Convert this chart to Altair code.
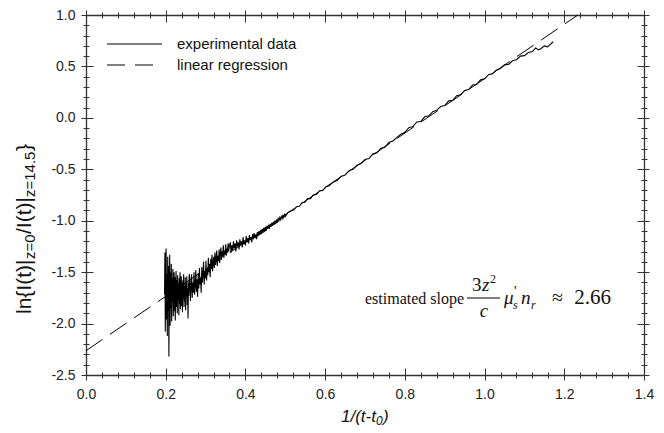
import altair as alt
import pandas as pd

# ---------------- data ----------------
# dense, noisy start (late times)
x_a = [0.197, 0.198, 0.199, 0.200, 0.201, 0.202, 0.203, 0.204, 0.205, 0.206,
       0.207, 0.208, 0.209, 0.210, 0.211, 0.212, 0.213, 0.214, 0.215, 0.216,
       0.217, 0.218, 0.219, 0.220, 0.221, 0.222, 0.223, 0.224, 0.225, 0.226,
       0.227, 0.228, 0.229, 0.230, 0.231, 0.232, 0.233, 0.234, 0.235, 0.236,
       0.237, 0.238, 0.239, 0.240, 0.241, 0.242, 0.243, 0.244, 0.245, 0.246,
       0.247, 0.248, 0.249, 0.250, 0.251, 0.252, 0.253, 0.254, 0.255, 0.256,
       0.257, 0.258, 0.259]
y_a = [-1.72, -1.31, -2.08, -1.40, -1.27, -1.96, -1.52, -2.12, -1.35, -1.88,
       -1.44, -2.32, -1.60, -1.33, -2.02, -1.50, -1.85, -1.42, -1.98, -1.56,
       -1.79, -1.47, -1.93, -1.62, -1.50, -1.88, -1.55, -1.97, -1.64, -1.49,
       -1.84, -1.58, -1.90, -1.53, -1.77, -1.61, -1.92, -1.56, -1.81, -1.50,
       -1.86, -1.66, -1.54, -1.83, -1.60, -1.89, -1.58, -1.76, -1.52, -1.84,
       -1.63, -1.79, -1.55, -1.87, -1.61, -1.74, -1.54, -1.82, -1.66, -1.95,
       -1.60, -1.73, -1.52]
x_b = [0.2605, 0.2620, 0.2635, 0.2650, 0.2665, 0.2680, 0.2695, 0.2710, 0.2725, 0.2740,
       0.2755, 0.2770, 0.2785, 0.2800, 0.2815, 0.2830, 0.2845, 0.2860, 0.2875, 0.2890,
       0.2905, 0.2920, 0.2935, 0.2950, 0.2965, 0.2980, 0.2995, 0.3010, 0.3025, 0.3040,
       0.3055, 0.3070, 0.3085, 0.3100, 0.3115, 0.3130, 0.3145, 0.3160, 0.3175, 0.3190,
       0.3205, 0.3220, 0.3235, 0.3250, 0.3265, 0.3280, 0.3295, 0.3310, 0.3325, 0.3340,
       0.3355, 0.3370, 0.3385, 0.3400, 0.3415, 0.3430, 0.3445, 0.3460, 0.3475, 0.3490,
       0.3505, 0.3520, 0.3535, 0.3550, 0.3565, 0.3580, 0.3595]
y_b = [-1.56, -1.78, -1.64, -1.52, -1.75, -1.60, -1.70, -1.50, -1.72, -1.63,
       -1.48, -1.69, -1.57, -1.74, -1.51, -1.66, -1.46, -1.62, -1.55, -1.70,
       -1.45, -1.60, -1.52, -1.40, -1.62, -1.49, -1.56, -1.39, -1.58, -1.46,
       -1.53, -1.36, -1.50, -1.42, -1.55, -1.37, -1.47, -1.33, -1.49, -1.41,
       -1.35, -1.46, -1.31, -1.43, -1.37, -1.29, -1.44, -1.34, -1.39, -1.28,
       -1.41, -1.32, -1.26, -1.38, -1.30, -1.35, -1.24, -1.36, -1.29, -1.33,
       -1.23, -1.34, -1.27, -1.31, -1.22, -1.30, -1.25]
x_c = [0.362, 0.364, 0.366, 0.368, 0.370, 0.372, 0.374, 0.376, 0.378, 0.380,
       0.382, 0.384, 0.386, 0.388, 0.390, 0.392, 0.394, 0.396, 0.398, 0.400,
       0.402, 0.404, 0.406, 0.408, 0.410, 0.412, 0.414, 0.416, 0.418, 0.420,
       0.422, 0.424, 0.426, 0.428, 0.430, 0.432, 0.434, 0.436, 0.438, 0.440,
       0.442, 0.444, 0.446, 0.448, 0.450, 0.452, 0.454, 0.456, 0.458, 0.460,
       0.462, 0.464, 0.466, 0.468, 0.470, 0.472, 0.474, 0.476, 0.478, 0.480,
       0.482, 0.484, 0.486, 0.488, 0.490, 0.492, 0.494, 0.496, 0.498, 0.500]
y_c = [-1.21, -1.31, -1.24, -1.29, -1.20, -1.27, -1.22, -1.30, -1.19, -1.25,
       -1.21, -1.28, -1.18, -1.24, -1.20, -1.26, -1.16, -1.23, -1.19, -1.24,
       -1.15, -1.21, -1.17, -1.22, -1.14, -1.19, -1.16, -1.21, -1.13, -1.18,
       -1.12, -1.17, -1.14, -1.18, -1.11, -1.15, -1.10, -1.14, -1.09, -1.13,
       -1.08, -1.12, -1.07, -1.11, -1.06, -1.10, -1.05, -1.08, -1.04, -1.08,
       -1.03, -1.06, -1.02, -1.05, -1.01, -1.04, -1.00, -1.03, -0.99, -1.02,
       -0.98, -1.00, -0.97, -0.99, -0.96, -0.98, -0.95, -0.97, -0.94, -0.96]
x_d = [0.507, 0.514, 0.521, 0.528, 0.535, 0.542, 0.549, 0.556, 0.563, 0.570,
       0.578, 0.586, 0.594, 0.602, 0.610, 0.620, 0.630, 0.640, 0.650, 0.660,
       0.670, 0.680, 0.690, 0.700, 0.710, 0.720, 0.730, 0.740, 0.750, 0.760,
       0.770, 0.780, 0.790, 0.800, 0.810, 0.820, 0.830, 0.840, 0.850, 0.860,
       0.870, 0.880, 0.890, 0.900, 0.910, 0.920, 0.930, 0.940, 0.950, 0.960,
       0.970, 0.980, 0.990, 1.000, 1.010, 1.020, 1.030, 1.040, 1.050, 1.060,
       1.070, 1.080, 1.090, 1.100, 1.110, 1.120, 1.128, 1.135, 1.142, 1.150,
       1.158, 1.165, 1.172]
y_d = [-0.92, -0.905, -0.895, -0.865, -0.86, -0.825, -0.82, -0.785, -0.785, -0.75,
       -0.745, -0.71, -0.705, -0.67, -0.66, -0.625, -0.61, -0.57, -0.555, -0.515,
       -0.50, -0.46, -0.445, -0.405, -0.395, -0.35, -0.34, -0.295, -0.285, -0.24,
       -0.225, -0.19, -0.16, -0.14, -0.095, -0.085, -0.04, -0.035, 0.01, 0.02,
       0.06, 0.075, 0.11, 0.12, 0.165, 0.17, 0.215, 0.225, 0.265, 0.275,
       0.32, 0.325, 0.37, 0.38, 0.42, 0.43, 0.465, 0.48, 0.515, 0.52,
       0.555, 0.565, 0.60, 0.605, 0.635, 0.645, 0.68, 0.66, 0.675, 0.70,
       0.69, 0.715, 0.74]

x_reg = [0.0, 1.234]
y_reg = [-2.264, 1.0]

series = ["experimental data", "linear regression"]

x_major = [0.0, 0.2, 0.4, 0.6, 0.8, 1.0, 1.2, 1.4]
x_minor = [0.04, 0.08, 0.12, 0.16, 0.24, 0.28, 0.32, 0.36, 0.44, 0.48, 0.52, 0.56,
           0.64, 0.68, 0.72, 0.76, 0.84, 0.88, 0.92, 0.96, 1.04, 1.08, 1.12, 1.16,
           1.24, 1.28, 1.32, 1.36]
y_major = [-2.5, -2.0, -1.5, -1.0, -0.5, 0.0, 0.5, 1.0]
y_minor = [-2.4, -2.3, -2.2, -2.1, -1.9, -1.8, -1.7, -1.6, -1.4, -1.3, -1.2, -1.1,
           -0.9, -0.8, -0.7, -0.6, -0.4, -0.3, -0.2, -0.1, 0.1, 0.2, 0.3, 0.4,
           0.6, 0.7, 0.8, 0.9]

# ---------------- chart ----------------
W, H = 558, 360
XD, YD = [0, 1.4], [-2.5, 1.0]
AX = "#333333"
INK = "#111111"
SANS = "Liberation Sans"
SERIF = "Liberation Serif"

exp_df = pd.DataFrame({"x": x_a + x_b + x_c + x_d, "y": y_a + y_b + y_c + y_d})
reg_df = pd.DataFrame({"x": x_reg, "y": y_reg})

label_expr = "datum.value < 0 ? '-' + format(-datum.value, '.1f') : format(datum.value, '.1f')"


def X(axis):
    return alt.X("x:Q", scale=alt.Scale(domain=XD, nice=False, zero=False), axis=axis)


def Y(axis):
    return alt.Y("y:Q", scale=alt.Scale(domain=YD, nice=False, zero=False), axis=axis)


def main_axis(orient, values):
    return alt.Axis(orient=orient, values=values, labelExpr=label_expr, tickSize=5,
                    labelPadding=7 if orient == "bottom" else 6, labelFontSize=14,
                    labelFont=SANS, labelColor="#222222", labelFlush=False,
                    labelOverlap=False, domainColor=AX, domainWidth=1.3,
                    tickColor=AX, tickWidth=1, grid=False, title=None)


def tick_axis(orient, values, size, offset, domain=False):
    return alt.Axis(orient=orient, values=values, tickSize=size, offset=offset,
                    labels=False, domain=domain, domainColor=AX, domainWidth=1.3,
                    tickColor=AX, tickWidth=1, grid=False, title=None)


exp_line = alt.Chart(exp_df).mark_line(color="black", strokeWidth=1.1).encode(
    x=X(main_axis("bottom", x_major)), y=Y(main_axis("left", y_major)), order="x:Q")

reg_line = alt.Chart(reg_df).mark_line(color="black", strokeWidth=1, strokeDash=[20, 9]).encode(
    x=X(tick_axis("bottom", x_minor, 3, 0)), y=Y(tick_axis("left", y_minor, 3, 0)))


def ghost(xa, ya):
    return alt.Chart(reg_df).mark_point(opacity=0).encode(x=X(xa), y=Y(ya))


ticks = [
    ghost(tick_axis("bottom", x_major, 7, -7), tick_axis("left", y_major, 7, -7)),
    ghost(tick_axis("bottom", x_minor, 3, -3), tick_axis("left", y_minor, 3, -3)),
    ghost(tick_axis("top", x_major, 5, 0, True), tick_axis("right", y_major, 5, 0, True)),
    ghost(tick_axis("top", x_minor, 3, 0), tick_axis("right", y_minor, 3, 0)),
    ghost(tick_axis("top", x_major, 7, -7), tick_axis("right", y_major, 7, -7)),
    ghost(tick_axis("top", x_minor, 3, -3), tick_axis("right", y_minor, 3, -3)),
]

ONE = alt.Data(values=[{}])


def txt(s, x, y, size, font=SANS, angle=0, italic=False, align="left"):
    return alt.Chart(ONE).mark_text(
        text=s, fontSize=size, font=font, angle=angle, align=align,
        baseline="alphabetic", fontStyle="italic" if italic else "normal",
        color=INK).encode(x=alt.value(x), y=alt.value(y))


def hline(x1, x2, y, dash=None):
    kw = {"strokeDash": dash} if dash else {}
    return alt.Chart(ONE).mark_rule(color="black", strokeWidth=1, **kw).encode(
        x=alt.value(x1), x2=alt.value(x2), y=alt.value(y))


# legend (top-left, inside the frame)
legend = [
    hline(21, 76, 29),
    txt(series[0], 91, 34, 15),
    hline(21, 67, 50, dash=[18, 10]),
    txt(series[1], 91, 55, 15),
]

# y-axis title (rotated, with subscripts)
ytitle = [
    txt("ln{I(t)|", -55, 299, 21, angle=270),
    txt("z=0", -51, 244, 15, angle=270),
    txt("/I(t)|", -55, 219, 21, angle=270),
    txt("z=14.5", -51, 182, 15, angle=270),
    txt("}", -55, 136, 21, angle=270),
]
# x-axis title
xtitle = [
    txt("1/(t-t", 255, 407, 17, italic=True),
    txt("0", 290, 410, 12, italic=True),
    txt(")", 297, 407, 17, italic=True),
]
# slope annotation
annot = [
    txt("estimated slope", 279, 289, 16, font=SERIF),
    txt("3", 386, 276, 19, font=SERIF),
    txt("z", 396, 276, 19, font=SERIF, italic=True),
    txt("2", 404, 268, 12, font=SERIF),
    hline(381, 414, 283),
    txt("c", 398, 302, 19, font=SERIF, italic=True, align="center"),
    txt("μ", 418, 289, 19, font=SERIF, italic=True),
    txt("'", 428, 281, 14, font=SERIF),
    txt("s", 427, 294, 12, font=SERIF, italic=True),
    txt("n", 435, 289, 19, font=SERIF, italic=True),
    txt("r", 445, 294, 12, font=SERIF, italic=True),
    txt("≈", 466, 289, 20, font=SERIF),
    txt("2.66", 525, 289, 21, font=SERIF, align="right"),
]

chart = alt.layer(exp_line, reg_line, *ticks, *legend, *ytitle, *xtitle, *annot).resolve_scale(
    x="independent", y="independent"
).properties(
    width=W, height=H,
    padding={"left": 78, "top": 7, "right": 12, "bottom": 55},
    autosize=alt.AutoSizeParams(type="none"),
).configure_view(stroke=None)

chart.save("out.html", embed_options={"renderer": "svg", "actions": False})
